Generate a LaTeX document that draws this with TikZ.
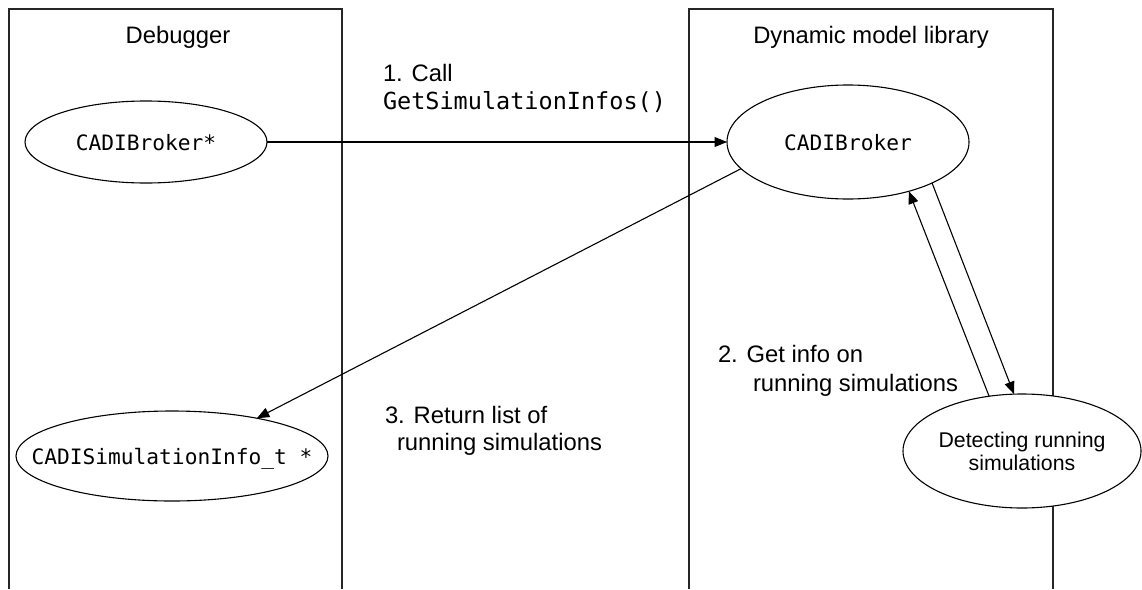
\documentclass[tikz,border=0pt]{standalone}
\usepackage{fontspec}
\setmainfont{Liberation Sans}
\newfontfamily\monofnt{DejaVu Sans Mono}
\usetikzlibrary{shapes.geometric,arrows.meta}
\begin{document}
\begin{tikzpicture}[x=1pt,y=-1pt,
  every node/.style={inner sep=0pt,outer sep=0pt},
  lbl/.style={anchor=base west,font=\fontsize{23.8}{28}\selectfont},
  ttl/.style={anchor=base,font=\fontsize{23.8}{28}\selectfont},
  oval/.style={draw,fill=white,ellipse,line width=1.1pt},
  ovaltxt/.style={font=\monofnt\fontsize{21.2}{24}\selectfont,text depth=0pt},
  conn/.style={line width=1.1pt,-{Triangle[length=12.5pt,width=10pt]}},
  frame/.style={line width=1.1pt,draw=black!85}]
\useasboundingbox (0,0) rectangle (1142,589);
% swimlane frames
\draw[frame] (9,589) -- (9,9) -- (342,9) -- (342,589);
\draw[frame] (689,589) -- (689,9) -- (1053,9) -- (1053,589);
\node[ttl] (tdbg) at (178,43) {Debugger};
\node[ttl] (tdml) at (871,43) {Dynamic model library};
% ellipses
\node[oval,minimum width=242pt,minimum height=82pt] (bptr) at (146,142) {};
\node[oval,minimum width=242pt,minimum height=114pt] (brk) at (848,142) {};
\node[oval,minimum width=312pt,minimum height=90pt] (info) at (172,456) {};
\node[oval,minimum width=238pt,minimum height=114pt] (det) at (1022,451) {};
\node[ovaltxt] (bptrt) at (bptr.center) {CADIBroker*};
\node[ovaltxt] (brkt) at (brk.center) {CADIBroker};
\node[ovaltxt] (infot) at (info.center) {CADISimulationInfo\_t *};
\node[align=center,font=\fontsize{21.3}{23}\selectfont] (dett) at (det.center) {Detecting running\\simulations};
% connectors
\draw[conn] (bptr.east) -- (brk.west);
\draw[conn] (brk.194.7) -- (info.24);
\draw[conn] (brk.334) -- (det.98);
\draw[conn] (det.121) -- (brk.321);
% labels
\node[lbl] (l1a) at (383,81) {1. Call};
\node[lbl,font=\monofnt\fontsize{23.5}{28}\selectfont] (l1b) at (383,109) {GetSimulationInfos()};
\node[lbl] (l2a) at (718,362) {2. Get info on};
\node[lbl] (l2b) at (753,391) {running simulations};
\node[lbl] (l3a) at (385,423) {3. Return list of};
\node[lbl] (l3b) at (397,450) {running simulations};
\end{tikzpicture}
\end{document}
